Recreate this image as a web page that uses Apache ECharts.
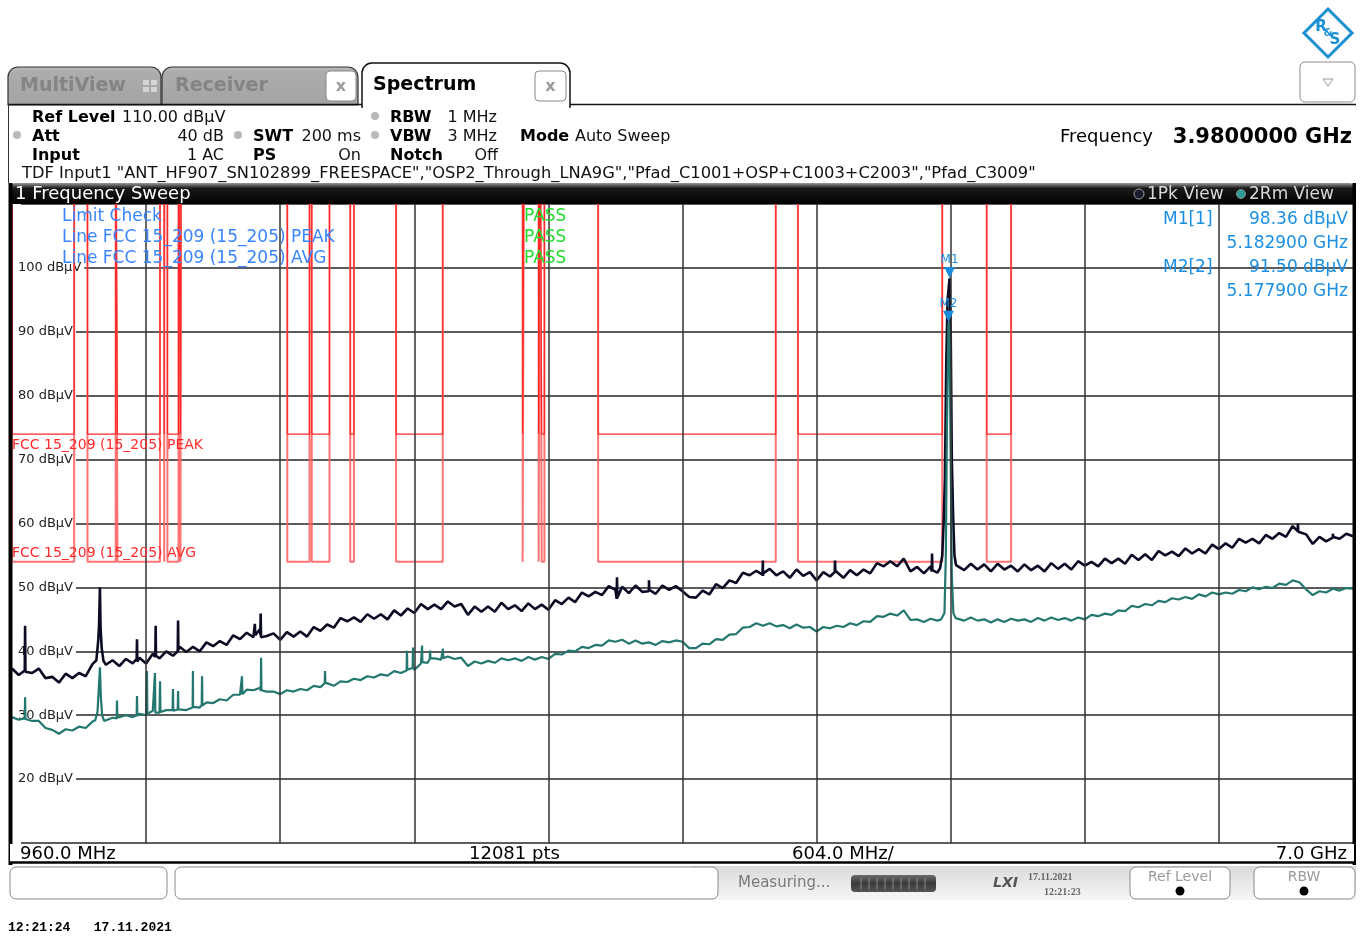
<!DOCTYPE html>
<html><head><meta charset="utf-8">
<script src="https://cdn.jsdelivr.net/npm/echarts@6/dist/echarts.min.js"></script>
<style>html,body{margin:0;padding:0;background:#fff}#c{width:1369px;height:936px}</style>
</head><body><div id="c"></div>
<script>
// ---------------- data ----------------
const startFreq = 960, stopFreq = 7000, stepFreq = 30.2, divFreq = 604, centerFreq = 3980, sweepPts = 12081;
const xTicks = [960,1564,2168,2772,3376,3980,4584,5188,5792,6396,7000];

// 1Pk trace (dBµV) on a 30.2 MHz grid starting at 960 MHz (null = replaced by detail points)
const pkBase = [
37.3,36.3,37.3,36.6,37.3,35.8,36.0,35.1,36.5,35.8,
36.6,36.1,38.0,null,37.9,38.6,37.7,38.8,38.1,39.0,
38.1,39.6,38.9,40.0,39.3,40.7,39.9,40.7,40.0,41.4,
40.8,41.6,41.0,42.5,41.9,42.9,42.2,43.5,42.4,42.8,
41.8,43.0,42.3,43.1,42.3,43.8,43.2,44.2,43.7,45.2,
44.7,45.3,44.6,45.8,45.1,45.8,45.0,46.4,45.6,46.7,
46.0,47.4,46.6,47.3,46.6,47.8,47.0,47.4,45.7,47.0,
46.2,47.0,46.2,47.6,46.6,47.2,46.3,47.5,46.6,47.3,
46.5,48.0,47.4,48.4,47.7,49.2,48.6,49.3,48.8,50.2,
49.6,50.1,49.1,50.3,49.3,50.0,49.0,50.3,49.6,50.2,
49.4,48.5,48.4,49.5,48.9,50.5,49.9,51.1,50.7,52.3,
51.9,52.6,51.8,52.9,51.9,52.5,51.5,52.8,51.8,52.4,
51.1,52.4,51.7,52.3,51.5,52.7,51.9,52.8,52.2,53.8,
53.3,54.1,53.3,54.5,52.5,53.2,52.2,53.3,52.3,null,
null,53.7,52.7,53.7,52.8,53.6,52.5,53.7,52.8,53.4,
52.5,53.6,52.7,53.4,52.5,53.8,52.9,53.7,52.8,54.1,
53.4,54.0,53.3,54.5,53.8,54.5,53.7,55.1,54.3,55.2,
54.3,55.7,55.0,55.6,54.9,56.1,55.3,56.0,55.3,56.7,
56.0,56.9,56.2,57.6,57.0,57.6,56.9,58.2,57.6,58.5,
57.9,59.6,58.6,58.3,56.8,57.9,57.2,58.4,57.6,58.4,
58.0];
// 2Rm trace (dBµV)
const rmsBase = [
29.7,29.3,29.9,29.1,29.1,28.0,27.7,27.1,27.8,27.6,
28.2,28.0,29.0,null,29.1,29.6,29.3,30.0,29.7,30.2,
30.0,30.7,30.4,30.8,30.5,31.1,30.8,31.3,31.2,32.0,
31.9,32.5,32.3,33.2,33.2,34.0,33.9,34.3,33.7,33.7,
33.3,33.9,33.7,34.1,33.9,34.6,34.4,34.8,34.6,35.3,
35.2,35.7,35.5,36.1,35.9,36.4,36.2,36.9,36.6,37.2,
37.1,38.1,38.2,38.9,38.7,39.2,38.8,39.0,37.7,38.4,
38.1,38.5,38.2,38.9,38.6,38.9,38.5,39.1,38.7,39.1,
38.8,39.6,39.5,40.1,40.0,40.7,40.5,41.0,40.9,41.7,
41.5,41.8,41.2,41.7,41.2,41.4,41.0,41.6,41.4,41.7,
41.5,40.5,40.5,41.2,41.1,41.9,41.8,42.6,42.7,43.7,
43.8,44.4,44.0,44.4,43.9,44.1,43.6,44.2,43.7,43.8,
43.1,43.8,43.6,44.0,43.8,44.4,44.1,44.7,44.6,45.5,
45.4,45.9,45.6,46.4,44.9,45.0,44.6,45.1,44.8,null,
null,45.3,44.8,45.3,44.8,45.0,44.5,45.0,44.6,45.1,
44.8,45.0,44.6,45.2,44.8,45.3,44.9,45.2,44.8,45.3,
45.0,45.7,45.5,45.9,45.7,46.4,46.3,47.1,46.9,47.4,
47.2,47.9,47.7,48.3,48.1,48.5,48.2,48.9,48.6,49.2,
48.9,49.2,49.0,49.6,49.4,50.0,49.7,50.1,49.9,50.6,
50.4,51.1,50.8,49.7,48.8,49.4,49.2,49.8,49.5,49.9,
49.8];
// detail points (spurs and carrier) : frequency MHz / level dBµV
const pkExtraF = [1017.5,1019,1020.5, 1340,1348,1352,1356,1359,1364,1372, 1521.5,1523,1524.5, 1605.5,1607,1608.5,
  1706.5,1708,1709.5, 2052.5,2054,2055.5, 2078.5,2080,2081.5, 3683.5,3685,3686.5, 3827.5,3829,3830.5,
  4340.5,4342,4343.5, 4665.5,4667,4668.5, 5102.5,5104,5105.5,
  5140,5150,5156,5162,5168,5174,5182.9,5188,5193,5199,5205,5212, 6750.5,6752,6753.5, 6908.5,6910,6911.5];
const pkExtraV = [37.0,44.0,36.8, 38.6,41.5,44.0,50.0,43.5,40.5,38.5, 38.8,41.9,38.4, 39.1,44.0,39.3,
  40.0,44.8,40.2, 42.3,44.3,42.5, 42.6,45.9,42.2, 48.2,51.6,48.4, 49.4,51.1,49.6,
  52.0,54.2,52.2, 52.4,54.2,52.6, 52.5,55.3,52.7,
  53.0,55.0,60.0,67.0,85.0,95.0,98.36,90.0,70.0,61.0,55.0,53.5, 58.8,60.0,58.7, 57.8,58.6,57.9];
const rmsExtraF = [1017.5,1019,1020.5, 1335,1345,1350,1356,1360,1366,1375, 1431.5,1433,1434.5, 1521.5,1523,1524.5,
  1566.5,1568,1569.5, 1602.5,1604,1605.5, 1625.5,1627,1628.5, 1683.5,1685,1686.5, 1706.5,1708,1709.5,
  1773.5,1775,1776.5, 1814.5,1816,1817.5, 1994.5,1996,1997.5, 2080.5,2082,2083.5, 2368.5,2370,2371.5,
  2737.5,2739,2740.5, 2764.5,2766,2767.5, 2805.5,2807,2808.5, 2841.5,2843,2844.5, 2899.5,2901,2902.5,
  5145,5160,5166,5171,5177.9,5183,5188,5193,5200,5210];
const rmsExtraV = [29.5,32.8,29.4, 29.2,30.5,33.5,37.5,33.0,30.0,29.1, 29.5,32.3,29.6, 30.0,33.0,29.9,
  30.3,36.9,30.2, 30.5,36.6,30.4, 30.6,35.3,30.5, 30.8,34.1,30.7, 30.9,33.8,30.9,
  31.2,36.9,31.3, 31.6,36.1,31.5, 33.2,36.1,33.3, 33.8,39.0,33.9, 35.0,36.9,35.1,
  37.0,40.1,37.1, 37.4,40.6,37.5, 38.2,40.9,38.3, 38.8,40.1,38.9, 39.0,40.4,38.9,
  45.0,46.0,55.0,75.0,91.5,88.0,70.0,52.0,46.0,45.2];
// FCC 15.205 restricted bands (MHz)
const bandStart = [960,1300,1435,1645.5,1660,1718.8,2200,2310,2483.5,2690,3260,3332,3345.8,3600,4500,5350];
const bandEnd   = [1240,1427,1626.5,1646.5,1710,1722.2,2300,2390,2500,2900,3267,3339,3358,4400,5150,5460];
const peakLimit = 74, avgLimit = 54, offLimit = 130;
// markers
const markerFreq = [5182.9, 5177.9];
const markerLevel = [98.36, 91.50];

// ---------------- build ----------------
function buildTrace(base, ef, ev){
  const pts = [];
  base.forEach((v,i)=>{ if(v!==null) pts.push([startFreq + i*stepFreq, v]); });
  ef.forEach((f,i)=>pts.push([f, ev[i]]));
  pts.sort((a,b)=>a[0]-b[0]);
  return pts;
}
function buildLimit(lim){
  const pts=[];
  for(let k=0;k<bandStart.length;k++){
    pts.push([bandStart[k], offLimit],[bandStart[k], lim],[bandEnd[k], lim],[bandEnd[k], offLimit]);
  }
  pts.push([stopFreq, offLimit]);
  return pts;
}
const FONT = '"DejaVu Sans"';
const TY = 1.5; // vertical text nudge
function T(x,y,text,s,c,o){o=o||{};return {type:'text',x:x,y:y+TY,z:100,silent:true,
  style:{text:text,fill:c||'#000',font:(o.i?'italic ':'')+(o.b?'bold ':'')+s+'px '+(o.f||FONT),textAlign:o.a||'left',textVerticalAlign:'middle'}};}
function R(x,y,w,h,fill,stroke,lw,r,z){const st={fill:fill||'none'};if(stroke){st.stroke=stroke;st.lineWidth=lw||1;}
  return {type:'rect',z:z||90,silent:true,shape:{x:x,y:y,width:w,height:h,r:r||0},style:st};}
function L(x1,y1,x2,y2,c,w,z){return {type:'line',z:z||95,silent:true,shape:{x1:x1,y1:y1,x2:x2,y2:y2},style:{stroke:c,lineWidth:w}};}
function C(cx,cy,r,fill,stroke,z){const st={fill:fill};if(stroke){st.stroke=stroke;st.lineWidth=1;}
  return {type:'circle',z:z||95,silent:true,shape:{cx:cx,cy:cy,r:r},style:st};}
function LG(stops){return new echarts.graphic.LinearGradient(0,0,0,1,stops.map(s=>({offset:s[0],color:s[1]})));}

const G = [];
// R&S logo
G.push({type:'polygon',z:95,silent:true,shape:{points:[[1328,9],[1352,33],[1328,57],[1304,33]]},style:{fill:'#fff',stroke:'#1a8fd6',lineWidth:3}});
G.push(T(1321,26,'R',15,'#1a8fd6',{b:1,a:'center'}), T(1328,32,'&',10,'#1a8fd6',{b:1,a:'center'}), T(1335,39,'S',15,'#1a8fd6',{b:1,a:'center'}));
// dropdown
G.push(R(1300,62,55,40,'#fff','#8a8a8a',1,5));
G.push({type:'polygon',z:95,silent:true,shape:{points:[[1323,79],[1333,79],[1328,86]]},style:{fill:'#fff',stroke:'#999',lineWidth:1}});
// tabs
const tabGray = LG([[0,'#bdbdbd'],[0.15,'#acacac'],[1,'#a4a4a4']]);
G.push(R(8,67,153,38,tabGray,'#333',1.2,[10,10,0,0]));
G.push(T(20,85,'MultiView',19,'#848484',{b:1}));
G.push(R(143,80,6,5,'#d4d4d4'),R(151,80,6,5,'#d4d4d4'),R(143,87,6,5,'#d4d4d4'),R(151,87,6,5,'#d4d4d4'));
G.push(R(162,67,196,38,tabGray,'#333',1.2,[10,10,0,0]));
G.push(T(175,85,'Receiver',19,'#848484',{b:1}));
G.push(R(326,71,30,30,'#fff','#888',1,4), T(341,85,'x',16,'#9a9a9a',{a:'center',b:1}));
G.push(R(362,63,208,44,'#fff','#111',1.5,[10,10,0,0]));
G.push(R(363,103,206,5,'#fff',null,0,0,91));
G.push(T(373,84,'Spectrum',19,'#000',{b:1}));
G.push(R(535,71,31,30,'#fff','#888',1,4,92), T(550.5,85,'x',16,'#9a9a9a',{a:'center',b:1}));
G.push(L(570,104.5,1356,104.5,'#111',1.5), L(8,104.5,362,104.5,'#111',1.5), L(8.5,104,8.5,183,'#333',1));
// info rows
const dot='#b8b8b8';
G.push(T(32,116,'Ref Level',16,'#000',{b:1}), T(122,116,'110.00 dBµV',16,'#111'));
G.push(C(17,135,4,dot), T(32,135,'Att',16,'#000',{b:1}), T(224,135,'40 dB',16,'#111',{a:'right'}));
G.push(C(238,135,4,dot), T(253,135,'SWT',16,'#000',{b:1}), T(361,135,'200 ms',16,'#111',{a:'right'}));
G.push(C(375,116,4,dot), T(390,116,'RBW',16,'#000',{b:1}), T(497,116,'1 MHz',16,'#111',{a:'right'}));
G.push(C(375,135,4,dot), T(390,135,'VBW',16,'#000',{b:1}), T(497,135,'3 MHz',16,'#111',{a:'right'}));
G.push(T(520,135,'Mode',16,'#000',{b:1}), T(575,135,'Auto Sweep',16,'#111'));
G.push(T(32,154,'Input',16,'#000',{b:1}), T(224,154,'1 AC',16,'#111',{a:'right'}));
G.push(T(253,154,'PS',16,'#000',{b:1}), T(361,154,'On',16,'#111',{a:'right'}));
G.push(T(390,154,'Notch',16,'#000',{b:1}), T(498,154,'Off',16,'#111',{a:'right'}));
G.push(T(22,172,'TDF Input1 "ANT_HF907_SN102899_FREESPACE","OSP2_Through_LNA9G","Pfad_C1001+OSP+C1003+C2003","Pfad_C3009"',16.3,'#111'));
G.push(T(1060,136,'Frequency',18,'#000'), T(1352,136,(centerFreq/1000).toFixed(7)+' GHz',21,'#000',{b:1,a:'right'}));
// window header
G.push(R(9,183,1347,21,LG([[0,'#9a9a9a'],[0.25,'#1a1a1a'],[1,'#000']]),null,0,[6,6,0,0]));
G.push(T(15,193,'1 Frequency Sweep',18,'#fff'));
G.push(C(1139,194,5,'#1c1c30','#9a9a9a',96), T(1147,193,'1Pk View',17,'#d8d8d8'));
G.push(C(1241,194,4.5,'#2f9d95','#888',96), T(1249,193,'2Rm View',17,'#d8d8d8'));
// plot side borders
G.push(R(8.5,183,4,682,'#000'), R(1352.5,183,3.5,682,'#000'));
// plot annotations
const blue='#3a86ff', green='#1fdc2a', red='#ff2a2a', mk='#1a8fe3';
G.push(T(62,215,'Limit Check',17,blue), T(62,236,'Line FCC 15_209 (15_205) PEAK',17,blue), T(62,257,'Line FCC 15_209 (15_205) AVG',17,blue));
G.push(T(524,215,'PASS',17,green), T(524,236,'PASS',17,green), T(524,257,'PASS',17,green));
G.push(T(12,444,'FCC 15_209 (15_205) PEAK',14,red), T(12,552,'FCC 15_209 (15_205) AVG',14,red));
G.push(T(1163,218,'M1[1]',17,mk), T(1348,218,markerLevel[0].toFixed(2)+' dBµV',17,mk,{a:'right'}), T(1348,242,(markerFreq[0]/1000).toFixed(6)+' GHz',17,mk,{a:'right'}));
G.push(T(1163,266,'M2[2]',17,mk), T(1348,266,markerLevel[1].toFixed(2)+' dBµV',17,mk,{a:'right'}), T(1348,290,(markerFreq[1]/1000).toFixed(6)+' GHz',17,mk,{a:'right'}));
// footer of diagram
G.push(R(10,844,1344,18,'#fff'), L(9,862.5,1356,862.5,'#000',2.5));
G.push(T(20,853,startFreq.toFixed(1)+' MHz',18,'#000'), T(469,853,sweepPts+' pts',18,'#000'),
       T(792,853,divFreq.toFixed(1)+' MHz/',18,'#000'), T(1347,853,(stopFreq/1000).toFixed(1)+' GHz',18,'#000',{a:'right'}));
// status bar
G.push(R(690,866,666,34,LG([[0,'#dadada'],[1,'#f6f6f6']]),null,0,0,88));
G.push(R(10,867,157,32,'#fff','#8a8a8a',1,6), R(175,867,543,32,'#fff','#8a8a8a',1,6));
G.push(T(738,882,'Measuring...',15,'#7a7a7a'));
G.push(R(851,875,85,17,LG([[0,'#6a6a6a'],[0.5,'#3a3a3a'],[1,'#555']]),null,0,4));
for(let k=0;k<9;k++){ G.push(L(861+k*8,878,861+k*8,889,'#8a8a8a',1,96)); }
G.push(T(993,882,'LXI',14,'#555',{b:1,i:1}));
G.push(T(1028,876,'17.11.2021',10,'#666',{b:1,f:'"Liberation Serif"'}), T(1044,891,'12:21:23',10,'#666',{b:1,f:'"Liberation Serif"'}));
G.push(R(1130,867,100,32,'#fff','#8a8a8a',1,6), T(1180,876,'Ref Level',14,'#9a9a9a',{a:'center'}), C(1180,891,4.5,'#000'));
G.push(R(1254,867,101,32,'#fff','#8a8a8a',1,6), T(1304,876,'RBW',14,'#9a9a9a',{a:'center'}), C(1304,891,4.5,'#000'));
G.push(T(8,926,'12:21:24   17.11.2021',13,'#000',{b:1,f:'"Liberation Mono"'}));

const chart = echarts.init(document.getElementById('c'));
chart.setOption({
  animation:false,
  backgroundColor:'#fff',
  grid:{left:12, right:16, top:204, bottom:93, containLabel:false},
  xAxis:{type:'value', min:startFreq, max:stopFreq, axisLine:{show:false}, axisTick:{show:false}, axisLabel:{show:false}, splitLine:{show:false}},
  yAxis:{type:'value', min:10, max:110, interval:10, axisLine:{show:false}, axisTick:{show:false},
    splitLine:{show:true, lineStyle:{color:'#262626', width:1.5}},
    axisLabel:{inside:true, margin:0, color:'#222', fontFamily:'DejaVu Sans', fontSize:13, backgroundColor:'#fff', padding:[4,3,0,6],
      formatter:v=> (v>10 && v<110) ? v+' dBµV' : ''}},
  graphic:{elements:G},
  series:[
    {type:'line', name:'AVG', data:buildLimit(avgLimit), symbol:'none', silent:true, clip:true,
      lineStyle:{color:'rgba(255,90,90,0.85)', width:2},
      markLine:{silent:true, symbol:['none','none'], label:{show:false}, lineStyle:{color:'#333', width:1.5, type:'solid'},
        data:xTicks.slice(1,-1).map(v=>({xAxis:v}))}},
    {type:'line', name:'PEAK', data:buildLimit(peakLimit), symbol:'none', silent:true, clip:true,
      lineStyle:{color:'#ff2828', width:1.2}},
    {type:'line', name:'1Pk', data:buildTrace(pkBase,pkExtraF,pkExtraV), symbol:'none', silent:true, clip:true,
      lineStyle:{color:'#0b0b24', width:2.6},
      markPoint:{silent:true, symbol:'path://M0,0 L10,0 L5,10 Z', symbolSize:[11,11], symbolOffset:[0,-6],
        itemStyle:{color:'#1a8ce0'}, label:{show:true, position:'top', distance:1, formatter:'M1', color:'#1a8fe3', fontSize:12, fontFamily:'DejaVu Sans'},
        data:[{coord:[markerFreq[0], markerLevel[0]]}]}},
    {type:'line', name:'2Rm', data:buildTrace(rmsBase,rmsExtraF,rmsExtraV), symbol:'none', silent:true, clip:true,
      lineStyle:{color:'#23776f', width:2.2},
      markPoint:{silent:true, symbol:'path://M0,0 L10,0 L5,10 Z', symbolSize:[11,11], symbolOffset:[0,-6],
        itemStyle:{color:'#1a8ce0'}, label:{show:true, position:'top', distance:1, formatter:'M2', color:'#1a8fe3', fontSize:12, fontFamily:'DejaVu Sans'},
        data:[{coord:[markerFreq[1], markerLevel[1]]}]}}
  ]
});
</script></body></html>
